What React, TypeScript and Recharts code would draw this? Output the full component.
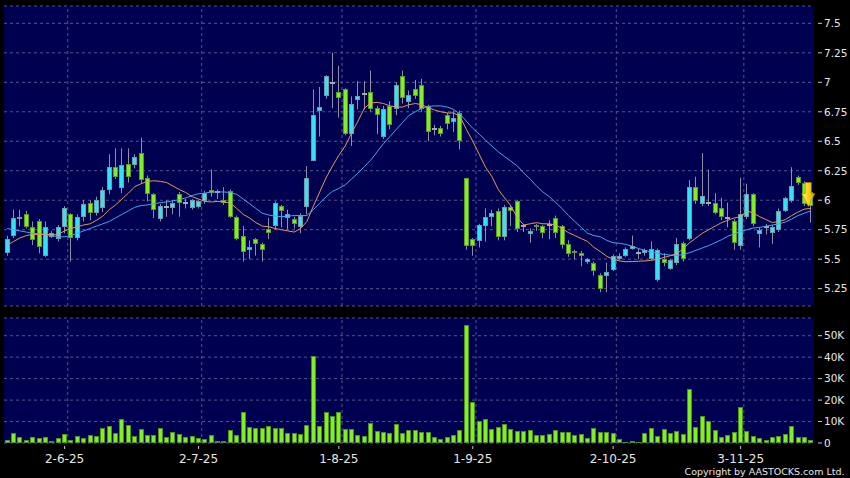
import React from "react";
import {
  ComposedChart,
  BarChart,
  Bar,
  Line,
  XAxis,
  YAxis,
  CartesianGrid,
  ReferenceLine,
  ReferenceDot,
} from "recharts";

const dates = [
  "20-5-25","21-5-25","22-5-25","23-5-25","26-5-25","27-5-25","28-5-25","29-5-25","30-5-25",
  "2-6-25","3-6-25","4-6-25","5-6-25","6-6-25","9-6-25","10-6-25","11-6-25","12-6-25","13-6-25","16-6-25","17-6-25","18-6-25","19-6-25","20-6-25","23-6-25","24-6-25","25-6-25","26-6-25","27-6-25","30-6-25",
  "2-7-25","3-7-25","4-7-25","7-7-25","8-7-25","9-7-25","10-7-25","11-7-25","14-7-25","15-7-25","16-7-25","17-7-25","18-7-25","21-7-25","22-7-25","23-7-25","24-7-25","25-7-25","28-7-25","29-7-25","30-7-25","31-7-25",
  "1-8-25","4-8-25","5-8-25","6-8-25","7-8-25","8-8-25","11-8-25","12-8-25","13-8-25","14-8-25","15-8-25","18-8-25","19-8-25","20-8-25","21-8-25","22-8-25","25-8-25","26-8-25","27-8-25","28-8-25","29-8-25",
  "1-9-25","2-9-25","3-9-25","4-9-25","5-9-25","8-9-25","9-9-25","10-9-25","11-9-25","12-9-25","15-9-25","16-9-25","17-9-25","18-9-25","19-9-25","22-9-25","23-9-25","24-9-25","25-9-25","26-9-25","29-9-25","30-9-25",
  "2-10-25","3-10-25","6-10-25","8-10-25","9-10-25","10-10-25","13-10-25","14-10-25","15-10-25","16-10-25","17-10-25","20-10-25","21-10-25","22-10-25","23-10-25","24-10-25","27-10-25","28-10-25","30-10-25","31-10-25",
  "3-11-25","4-11-25","5-11-25","6-11-25","7-11-25","10-11-25","11-11-25","12-11-25","13-11-25","14-11-25","17-11-25","18-11-25",
];

const opens = [
  5.55,5.70,5.85,5.88,5.77,5.82,5.53,5.69,5.67,5.77,
  5.88,5.68,5.86,5.98,5.89,5.93,6.09,6.28,6.10,6.31,
  6.30,6.40,6.19,6.05,5.84,5.94,5.93,6.05,5.98,5.935,
  5.94,5.99,6.09,6.07,6.00,6.08,5.86,5.70,5.58,5.67,
  5.63,5.76,5.78,5.95,5.85,5.84,5.77,5.94,6.33,6.76,
  6.88,6.99,6.92,6.94,6.56,6.85,6.90,6.92,6.78,6.54,
  6.80,6.77,7.05,6.83,6.94,6.98,6.80,6.60,6.61,6.72,
  6.66,6.74,6.19,5.67,5.65,5.78,5.86,5.91,5.69,5.94,
  5.99,5.78,5.71,5.79,5.78,5.79,5.85,5.78,5.63,5.57,
  5.55,5.48,5.47,5.37,5.36,5.41,5.50,5.53,5.59,5.55,
  5.55,5.50,5.32,5.50,5.42,5.47,5.64,5.67,6.11,5.97,
  5.98,5.98,5.93,5.85,5.82,5.61,5.86,6.05,5.71,5.77,
  5.72,5.75,5.91,5.99,6.20,6.15,6.07,
];

const highs = [
  5.70,5.92,5.92,5.91,5.82,5.84,5.82,5.74,5.79,5.95,
  5.89,5.88,6.00,6.00,6.03,6.11,6.39,6.44,6.44,6.44,
  6.39,6.53,6.21,6.06,5.97,6.00,6.00,6.07,6.01,6.01,
  6.00,6.08,6.26,6.09,6.11,6.09,5.87,5.78,5.66,5.68,
  5.64,5.85,5.99,5.96,5.92,5.86,5.89,6.29,6.94,6.96,
  7.06,7.25,7.14,6.95,6.88,7.01,7.01,7.10,6.80,6.80,
  6.84,7.00,7.10,6.93,7.02,7.03,6.81,6.64,6.63,6.74,
  6.76,6.76,6.19,5.68,5.80,5.93,5.92,5.93,5.96,5.96,
  6.00,5.80,5.76,5.80,5.79,5.83,5.87,5.79,5.66,5.58,
  5.57,5.51,5.48,5.38,5.47,5.54,5.55,5.60,5.70,5.59,
  5.59,5.65,5.59,5.55,5.50,5.68,5.65,6.17,6.20,6.40,
  6.26,6.06,6.02,5.98,5.84,6.19,6.14,6.06,5.77,5.80,
  5.79,5.93,6.03,6.28,6.21,6.16,6.08,
];

const lows = [
  5.53,5.68,5.78,5.76,5.62,5.55,5.52,5.68,5.65,5.72,
  5.48,5.66,5.82,5.83,5.87,5.90,6.05,6.18,6.06,6.15,
  6.27,6.14,5.99,5.85,5.82,5.86,5.88,5.86,5.93,5.92,
  5.93,5.97,6.03,6.01,5.96,5.85,5.66,5.48,5.50,5.53,
  5.48,5.67,5.75,5.77,5.75,5.76,5.72,5.88,6.33,6.54,
  6.86,6.78,6.70,6.55,6.46,6.77,6.77,6.75,6.56,6.52,
  6.60,6.72,6.82,6.78,6.86,6.75,6.50,6.55,6.54,6.60,
  6.58,6.43,5.58,5.53,5.60,5.65,5.78,5.66,5.66,5.78,
  5.73,5.73,5.64,5.74,5.68,5.67,5.68,5.59,5.52,5.50,
  5.44,5.46,5.36,5.22,5.22,5.40,5.49,5.52,5.58,5.50,
  5.53,5.49,5.31,5.44,5.41,5.45,5.48,5.66,5.97,5.95,
  5.95,5.88,5.83,5.77,5.58,5.58,5.84,5.78,5.60,5.71,
  5.63,5.73,5.90,5.98,6.13,5.95,5.81,
];

const closes = [
  5.67,5.85,5.86,5.77,5.66,5.60,5.77,5.72,5.77,5.93,
  5.68,5.86,5.97,5.89,6.00,6.09,6.28,6.20,6.30,6.20,
  6.37,6.17,6.05,5.92,5.95,5.94,5.98,5.98,5.98,6.00,
  5.99,6.06,6.06,6.07,5.98,5.86,5.67,5.56,5.60,5.63,
  5.58,5.72,5.98,5.91,5.88,5.80,5.87,6.19,6.72,6.79,
  7.05,6.99,6.87,6.56,6.82,6.88,6.90,6.77,6.72,6.77,
  6.64,6.98,6.87,6.89,6.88,6.77,6.58,6.60,6.56,6.65,
  6.70,6.50,5.61,5.61,5.79,5.86,5.89,5.69,5.94,5.91,
  5.76,5.78,5.74,5.77,5.72,5.79,5.72,5.62,5.54,5.56,
  5.53,5.50,5.40,5.25,5.39,5.53,5.53,5.59,5.61,5.55,
  5.58,5.59,5.58,5.47,5.49,5.63,5.50,6.11,5.99,6.04,
  5.98,5.89,5.86,5.85,5.64,5.88,6.05,5.80,5.75,5.77,
  5.77,5.91,6.02,6.12,6.15,5.97,5.95,
];

const ma10 = [
  5.62,5.65,5.68,5.70,5.71,5.71,5.71,5.705,5.71,5.74,
  5.76,5.775,5.79,5.80,5.83,5.865,5.92,5.96,6.01,6.06,
  6.115,6.14,6.16,6.165,6.16,6.15,6.12,6.09,6.065,6.03,
  6.01,5.99,5.985,5.99,5.985,5.975,5.93,5.88,5.85,5.81,
  5.78,5.775,5.76,5.75,5.74,5.73,5.76,5.82,5.95,6.07,
  6.19,6.29,6.38,6.46,6.57,6.67,6.78,6.825,6.83,6.82,
  6.80,6.79,6.79,6.81,6.82,6.81,6.785,6.765,6.75,6.74,
  6.74,6.71,6.60,6.50,6.39,6.28,6.20,6.09,6.02,5.95,
  5.85,5.79,5.80,5.81,5.80,5.80,5.79,5.76,5.725,5.70,
  5.675,5.65,5.60,5.565,5.525,5.50,5.485,5.478,5.48,5.483,
  5.485,5.49,5.50,5.515,5.53,5.545,5.59,5.64,5.68,5.72,
  5.75,5.78,5.81,5.83,5.85,5.86,5.91,5.89,5.86,5.835,
  5.81,5.82,5.835,5.87,5.90,5.925,5.93,
];

const ma20 = [
  5.76,5.75,5.74,5.73,5.72,5.715,5.71,5.70,5.69,5.69,
  5.70,5.72,5.74,5.76,5.78,5.80,5.82,5.85,5.88,5.91,
  5.94,5.955,5.96,5.97,5.98,5.985,5.995,6.005,6.02,6.04,
  6.055,6.06,6.07,6.07,6.07,6.065,6.05,6.01,5.97,5.93,
  5.89,5.875,5.865,5.86,5.865,5.87,5.87,5.87,5.92,5.975,
  6.03,6.075,6.10,6.13,6.18,6.23,6.285,6.34,6.41,6.48,
  6.54,6.60,6.66,6.72,6.75,6.78,6.795,6.80,6.80,6.79,
  6.77,6.73,6.67,6.61,6.56,6.51,6.46,6.41,6.37,6.33,
  6.29,6.23,6.18,6.12,6.07,6.03,5.98,5.93,5.87,5.82,
  5.77,5.72,5.70,5.69,5.66,5.64,5.635,5.625,5.61,5.59,
  5.575,5.56,5.55,5.54,5.535,5.532,5.54,5.555,5.575,5.595,
  5.615,5.64,5.665,5.695,5.715,5.735,5.75,5.765,5.77,5.78,
  5.79,5.80,5.815,5.84,5.87,5.89,5.91,
];

const volumes = [
  1500,4700,2600,1200,2800,2300,2600,1100,2300,4200,
  1200,3100,2500,3700,3100,7000,7900,4800,11200,8200,
  3100,6500,3900,3900,6800,3000,5300,4300,3000,3100,
  2500,2000,3700,900,800,5900,3700,14400,7500,7100,
  7100,7800,7000,7000,4800,4800,4200,8500,40500,7900,
  14300,12400,14400,6700,6700,3900,3400,9200,5600,5300,
  4700,8700,4700,5900,6200,5300,5100,2600,1900,3000,
  3600,5900,55000,19100,10400,11200,6700,7500,9000,6700,
  5600,5600,6100,3900,3900,4200,6100,5100,5100,3600,
  4200,2500,6800,5100,5100,4500,2000,600,1100,600,
  4800,7000,3400,6700,4800,5400,4300,25000,7500,12600,
  10200,5900,3000,3700,5000,17000,5600,3100,2200,1500,
  2600,3400,4200,7900,2800,2800,1400,
];

const dateTicks = ["2-6-25", "2-7-25", "1-8-25", "1-9-25", "2-10-25", "3-11-25"];
const priceTicks = [5.25, 5.5, 5.75, 6, 6.25, 6.5, 6.75, 7, 7.25, 7.5];
const volumeTicks = [0, 10000, 20000, 30000, 40000, 50000];
const priceDomain = [5.103, 7.647];
const volumeDomain = [0, 58250];
const arrowLevel = 6.15;

const priceData = dates.map((d, i) => ({
  date: d,
  o: opens[i],
  h: highs[i],
  l: lows[i],
  c: closes[i],
  range: [lows[i], highs[i]],
  ma10: ma10[i],
  ma20: ma20[i],
}));

const volumeData = dates.map((d, i) => ({ date: d, v: volumes[i] }));

const PLOT_BG = "#000050";
const GRID = "#55558c";
const TEXT = "#e6e6e6";
const UP_FILL = "#36e2f2";
const UP_STROKE = "#6a9cae";
const DN_FILL = "#82f020";
const DN_STROKE = "#5a9a28";
const WICK = "#8e8ea4";

const Candle = (props: any) => {
  const { x, y, width, height, payload } = props;
  if (!payload) return null;
  const { o, h, l, c } = payload;
  const top = Math.min(y, y + height);
  const hh = Math.abs(height);
  const span = h - l;
  const ppu = span > 0 ? hh / span : 0;
  const yOf = (v: number) => top + (h - v) * ppu;
  const cx = x + width / 2;
  const left = Math.round(cx - 2.5);
  const wx = left + 2.5;
  const bTop = yOf(Math.max(o, c));
  const bBot = yOf(Math.min(o, c));
  const doji = Math.abs(o - c) < 0.005;
  const up = c > o;
  const rTop = Math.round(bTop);
  const rBot = Math.round(bBot);
  return (
    <g>
      <line x1={wx} x2={wx} y1={yOf(h)} y2={yOf(l)} stroke={WICK} strokeWidth={1} />
      {doji ? (
        <rect x={left} y={rTop - 1} width={5} height={2} fill="#a8a8ba" />
      ) : (
        <rect
          x={left + 0.5}
          y={rTop + 0.5}
          width={4}
          height={Math.max(1, rBot - rTop - 1)}
          fill={up ? UP_FILL : DN_FILL}
          stroke={up ? UP_STROKE : DN_STROKE}
          strokeWidth={1}
        />
      )}
    </g>
  );
};

const VolBar = (props: any) => {
  const { x, y, width, height } = props;
  const top = Math.min(y, y + height);
  const hh = Math.abs(height);
  const cx = x + width / 2;
  const left = Math.round(cx - 2.5);
  const rTop = Math.round(top);
  const rBot = Math.round(top + hh);
  return (
    <rect
      x={left + 0.5}
      y={rTop + 0.5}
      width={4}
      height={Math.max(0.5, rBot - rTop - 1)}
      fill="#80f01e"
      stroke="#4f901c"
      strokeWidth={1}
    />
  );
};

const RightTick = (props: any) => {
  const { x, y, payload, fmt } = props;
  return (
    <g>
      <line x1={x + 4} x2={x + 8} y1={y} y2={y} stroke="#c8c8c8" strokeWidth={1} />
      <text
        x={x + 10}
        y={y}
        dy="0.36em"
        fill={TEXT}
        fontSize={10.5}
        fontFamily="DejaVu Sans, sans-serif"
        textAnchor="start"
      >
        {fmt(payload.value)}
      </text>
    </g>
  );
};

const BottomTick = (props: any) => {
  const { x, y, payload } = props;
  return (
    <g>
      <line x1={x} x2={x} y1={y + 3} y2={y + 6} stroke="#c8c8c8" strokeWidth={1} />
      <text
        x={x}
        y={y + 19.5}
        fill={TEXT}
        fontSize={12}
        fontFamily="DejaVu Sans, sans-serif"
        textAnchor="middle"
      >
        {payload.value}
      </text>
    </g>
  );
};

const ArrowMark = (props: any) => {
  const { cx, cy } = props;
  if (cx == null || cy == null) return null;
  const x = cx - 2.5;
  const d = `M${x - 3},${cy} L${x + 3},${cy} L${x + 3},${cy + 11} L${x + 6.5},${cy + 11} L${x},${cy + 24} L${x - 6.5},${cy + 11} L${x - 3},${cy + 11} Z`;
  return (
    <g>
      <defs>
        <linearGradient id="arrowGrad" x1="0" y1="0" x2="1" y2="0">
          <stop offset="0" stopColor="#fff06a" />
          <stop offset="0.5" stopColor="#ffd21a" />
          <stop offset="1" stopColor="#d99a00" />
        </linearGradient>
      </defs>
      <path d={d} fill="url(#arrowGrad)" stroke="#b88400" strokeWidth={0.6} />
    </g>
  );
};

const fmtPrice = (v: number) => String(v);
const fmtVol = (v: number) => (v === 0 ? "0" : `${v / 1000}K`);

export default function App() {
  return (
    <div
      style={{
        position: "absolute",
        left: 0,
        top: 0,
        width: 850,
        height: 478,
        background: "#000",
        overflow: "hidden",
      }}
    >
      <div style={{ position: "absolute", left: 0, top: 0 }}>
        <ComposedChart
          width={850}
          height={312}
          data={priceData}
          margin={{ top: 6, right: 0, bottom: 6, left: 4 }}
        >
          <CartesianGrid
            vertical={false}
            fill={PLOT_BG}
            fillOpacity={1}
            stroke={GRID}
            strokeDasharray="3 3"
          />
          <XAxis dataKey="date" hide />
          <YAxis
            orientation="right"
            width={36}
            domain={priceDomain}
            ticks={priceTicks}
            interval={0}
            allowDataOverflow
            axisLine={false}
            tickLine={false}
            tickSize={0}
            tickMargin={0}
            tick={(p: any) => <RightTick {...p} fmt={fmtPrice} />}
          />
          {dateTicks.map((d) => (
            <ReferenceLine
              key={d}
              x={d}
              position="end"
              stroke={GRID}
              strokeDasharray="3 3"
            />
          ))}
          <Bar dataKey="range" shape={Candle} isAnimationActive={false} />
          <Line
            type="linear"
            dataKey="ma20"
            stroke="#3fa8f0"
            strokeWidth={1}
            dot={false}
            isAnimationActive={false}
          />
          <Line
            type="linear"
            dataKey="ma10"
            stroke="#e8955c"
            strokeWidth={1}
            dot={false}
            isAnimationActive={false}
          />
          <ReferenceDot
            x={dates[dates.length - 1]}
            y={arrowLevel}
            r={0}
            ifOverflow="visible"
            shape={ArrowMark}
          />
        </ComposedChart>
      </div>
      <div style={{ position: "absolute", left: 0, top: 312 }}>
        <BarChart
          width={850}
          height={166}
          data={volumeData}
          margin={{ top: 6, right: 0, bottom: 0, left: 4 }}
        >
          <CartesianGrid
            vertical={false}
            fill={PLOT_BG}
            fillOpacity={1}
            stroke={GRID}
            strokeDasharray="3 3"
          />
          <XAxis
            dataKey="date"
            height={35}
            ticks={dateTicks}
            interval={0}
            axisLine={false}
            tickLine={false}
            tickSize={0}
            tickMargin={0}
            tick={(p: any) => <BottomTick {...p} />}
          />
          <YAxis
            orientation="right"
            width={36}
            domain={volumeDomain}
            ticks={volumeTicks}
            interval={0}
            allowDataOverflow
            axisLine={false}
            tickLine={false}
            tickSize={0}
            tickMargin={0}
            tick={(p: any) => <RightTick {...p} fmt={fmtVol} />}
          />
          {dateTicks.map((d) => (
            <ReferenceLine
              key={d}
              x={d}
              position="end"
              stroke={GRID}
              strokeDasharray="3 3"
            />
          ))}
          <Bar dataKey="v" shape={VolBar} isAnimationActive={false} />
        </BarChart>
      </div>
      <svg
        width={850}
        height={478}
        style={{ position: "absolute", left: 0, top: 0, pointerEvents: "none" }}
      >
        <text
          x={844.5}
          y={474.5}
          textAnchor="end"
          fill={TEXT}
          fontSize={9.5}
          fontFamily="DejaVu Sans, sans-serif"
        >
          Copyright by AASTOCKS.com Ltd.
        </text>
      </svg>
    </div>
  );
}
